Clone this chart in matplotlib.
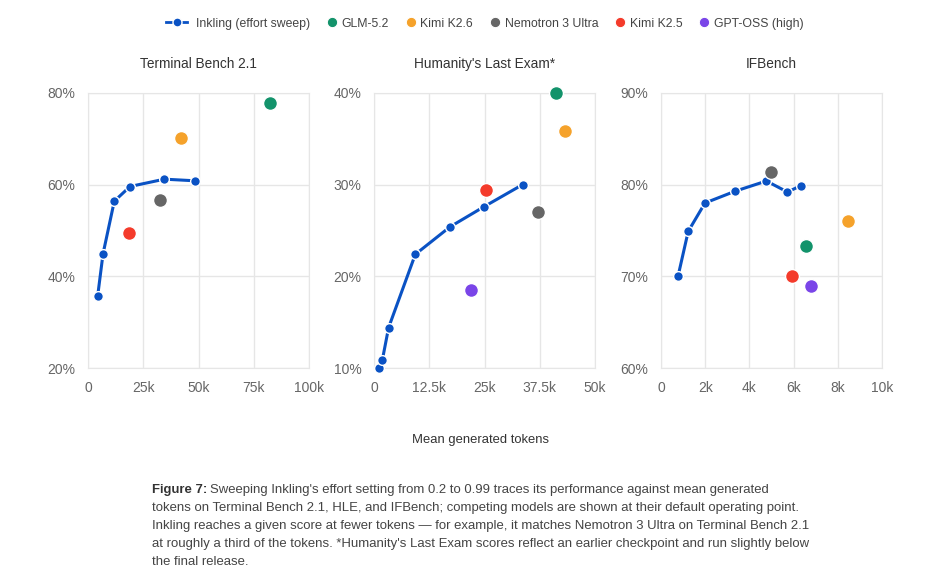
import matplotlib.pyplot as plt
from matplotlib.lines import Line2D
from matplotlib.ticker import FuncFormatter

plt.rcParams['font.family'] = ['Liberation Sans', 'DejaVu Sans']

# benchmark panels
titles = ['Terminal Bench 2.1', "Humanity's Last Exam*", 'IFBench']

# Inkling effort sweep (tokens in k, score in %)
ink_x = [
    [4.4, 6.8, 11.9, 19.0, 34.6, 48.2],
    [1.1, 1.9, 3.3, 9.35, 17.2, 24.9, 33.6],
    [0.77, 1.23, 1.99, 3.37, 4.77, 5.72, 6.34],
]
ink_y = [
    [35.8, 44.9, 56.4, 59.6, 61.2, 60.85],
    [10.0, 10.9, 14.4, 22.4, 25.4, 27.6, 30.0],
    [70.0, 74.9, 78.0, 79.3, 80.4, 79.2, 79.9],
]

# competitors at default operating point, per panel (tokens k, score %)
models = ['GLM-5.2', 'Kimi K2.6', 'Nemotron 3 Ultra', 'Kimi K2.5', 'GPT-OSS (high)']
model_colors = ['#13936b', '#f5a22b', '#666666', '#f43b2b', '#7a45e8']
comp_pts = {
    'GLM-5.2': [(82.2, 77.9), (41.1, 40.0), (6.55, 73.3)],
    'Kimi K2.6': [(42.3, 70.2), (43.1, 35.9), (8.48, 76.0)],
    'Nemotron 3 Ultra': [(32.8, 56.6), (37.0, 27.0), (4.97, 81.4)],
    'Kimi K2.5': [(18.7, 49.5), (25.4, 29.4), (5.95, 70.0)],
    'GPT-OSS (high)': [None, (22.0, 18.5), (6.79, 69.0)],
}

xlims = [(0, 100), (0, 50), (0, 10)]
xticks = [[0, 25, 50, 75, 100], [0, 12.5, 25, 37.5, 50], [0, 2, 4, 6, 8, 10]]
xticklabels = [['0', '25k', '50k', '75k', '100k'],
               ['0', '12.5k', '25k', '37.5k', '50k'],
               ['0', '2k', '4k', '6k', '8k', '10k']]
ylims = [(20, 80), (10, 40), (60, 90)]
yticks = [[20, 40, 60, 80], [10, 20, 30, 40], [60, 70, 80, 90]]

blue = '#0a52c4'
grid_c = '#e6e6e6'
tick_c = '#666666'

fig = plt.figure(figsize=(9.25, 5.83), dpi=100)
W, H = 925, 583
lefts = [88, 374, 661]
for i in range(3):
    ax = fig.add_axes([lefts[i] / W, (H - 368) / H, 221 / W, 275 / H])
    ax.plot(ink_x[i], ink_y[i], color=blue, lw=2.2, marker='o', ms=7,
            mfc=blue, mec='white', mew=1.0, zorder=3, clip_on=False)
    for m, c in zip(models, model_colors):
        p = comp_pts[m][i]
        if p is None:
            continue
        ax.plot(p[0], p[1], 'o', ms=10, color=c, mec='white', mew=1.0,
                zorder=4, clip_on=False)
    ax.set_xlim(*xlims[i])
    ax.set_ylim(*ylims[i])
    ax.set_xticks(xticks[i])
    ax.set_xticklabels(xticklabels[i])
    ax.set_yticks(yticks[i])
    ax.yaxis.set_major_formatter(FuncFormatter(lambda v, p: f'{v:.0f}%'))
    ax.grid(True, color=grid_c, lw=1)
    ax.set_axisbelow(True)
    for s in ax.spines.values():
        s.set_color(grid_c)
    ax.tick_params(length=0, labelsize=10, labelcolor=tick_c, pad=9)
    ax.set_title(titles[i], fontsize=9.8, color='#333333', pad=18)

fig.text(481 / W, 1 - 440 / H, 'Mean generated tokens', ha='center', va='center',
         fontsize=9.4, color='#333333')

# legend, laid out by hand along the top
leg_y = 1 - 22 / H
leg_fs = 8.8
x = 166
fig.canvas.draw()
r = fig.canvas.get_renderer()
labels = ['Inkling (effort sweep)'] + models
colors = [blue] + model_colors
for k, (lab, c) in enumerate(zip(labels, colors)):
    if k == 0:
        fig.add_artist(Line2D([x / W, (x + 21) / W], [leg_y, leg_y], color=c, lw=2))
        fig.add_artist(Line2D([(x + 10.5) / W], [leg_y], color=c, marker='o', ms=6.5,
                              mec='white', mew=1))
        x += 30
    else:
        fig.add_artist(Line2D([(x + 4) / W], [leg_y], color=c, marker='o', ms=7.5,
                              mec='white', mew=0.8, lw=0))
        x += 13.5
    t = fig.text(x / W, leg_y - 0.5 / H, lab, fontsize=leg_fs, color='#444444',
                 va='center_baseline', ha='left')
    x = t.get_window_extent(r).x1 + 18

# caption
cap_lines = [
    "Sweeping Inkling's effort setting from 0.2 to 0.99 traces its performance against mean generated",
    "tokens on Terminal Bench 2.1, HLE, and IFBench; competing models are shown at their default operating point.",
    "Inkling reaches a given score at fewer tokens \u2014 for example, it matches Nemotron 3 Ultra on Terminal Bench 2.1",
    "at roughly a third of the tokens. *Humanity's Last Exam scores reflect an earlier checkpoint and run slightly below",
    "the final release.",
]
x0 = 152 / W
y0 = 490
t = fig.text(x0, 1 - y0 / H, 'Figure 7:', fontsize=9.45, fontweight='bold',
             color='#333333', va='center', ha='left')
bb = t.get_window_extent(r)
fig.text((bb.x1 + 3) / W, 1 - y0 / H, cap_lines[0], fontsize=9.45, color='#444444',
         va='center', ha='left')
for k, line in enumerate(cap_lines[1:], start=1):
    fig.text(x0, 1 - (y0 + 18 * k) / H, line, fontsize=9.45, color='#444444',
             va='center', ha='left')

fig.savefig('out.png', dpi=100)
